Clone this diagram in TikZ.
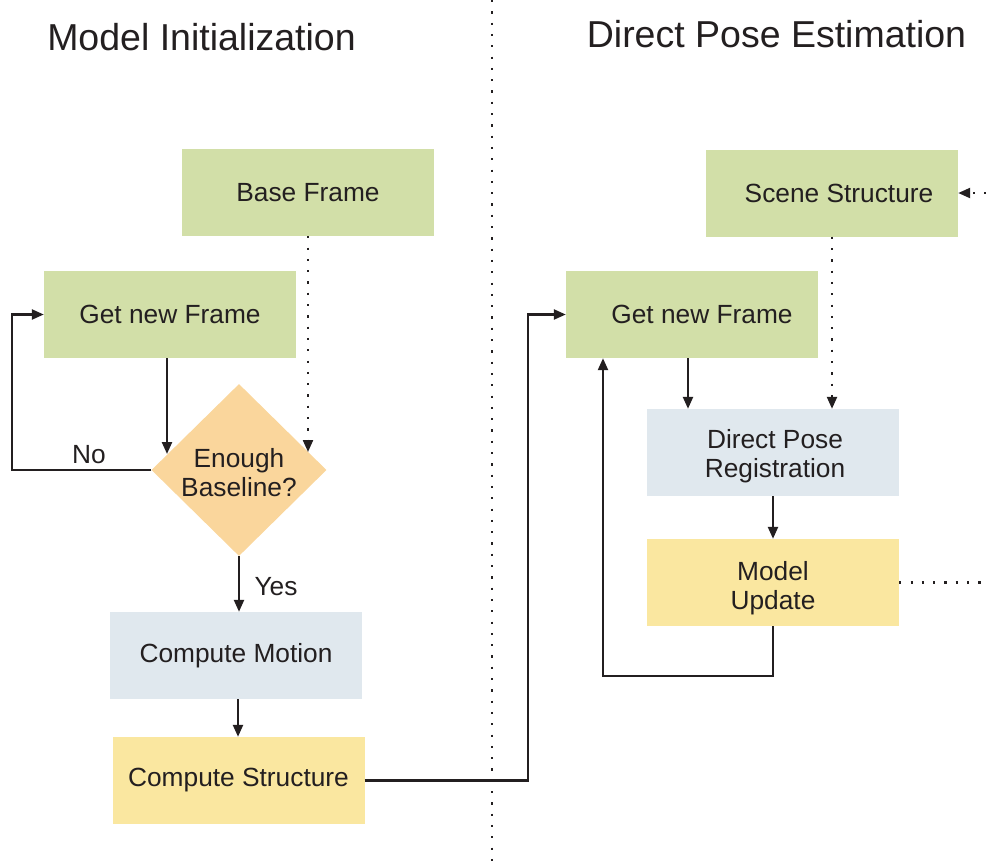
\documentclass[tikz,border=0pt]{standalone}
\usepackage{fontspec}
\setmainfont{Liberation Sans}
\usetikzlibrary{shapes.geometric,arrows.meta}
\definecolor{ink}{RGB}{35,31,32}
\definecolor{boxgreen}{RGB}{210,223,168}
\definecolor{boxblue}{RGB}{224,232,238}
\definecolor{boxyellow}{RGB}{250,231,160}
\definecolor{boxorange}{RGB}{250,214,156}
\tikzset{
  stepbox/.style={rectangle, minimum width=252pt, minimum height=87pt, inner sep=0pt,
    align=center, text=ink, font=\fontsize{26.3}{30}\selectfont},
  decision/.style={diamond, minimum width=175pt, minimum height=172pt, inner sep=0pt,
    fill=boxorange},
  caption/.style={text=ink, font=\fontsize{26.3}{29.5}\selectfont, align=center, inner sep=0pt},
  flow/.style={draw=ink, line width=2.3pt, -{Triangle[length=12pt,width=10pt]}},
  hint/.style={draw=ink, line width=2.2pt, dash pattern=on 2.2pt off 9.1pt},
  hintarrow/.style={hint, -{Triangle[length=12pt,width=10pt]}},
  title/.style={text=ink, font=\fontsize{37.5}{40}\selectfont, anchor=base, inner sep=0pt},
  tag/.style={text=ink, font=\fontsize{26.3}{30}\selectfont, inner sep=0pt}
}
\begin{document}
\begin{tikzpicture}[x=1pt, y=-1pt]
\useasboundingbox (0,0) rectangle (986,868);

% section titles and the divider between them
\node[title] (t1) at (201.5,50) {Model Initialization};
\node[title] (t2) at (776.5,47) {Direct Pose Estimation};
\coordinate (dtop) at (492,0);
\coordinate (dbot) at (492,868);
\draw[hint] (dtop) -- (dbot);

% model initialization
\node[stepbox, fill=boxgreen] (base) at (308,192.5) {Base Frame};
\node[stepbox, fill=boxgreen] (getL) at (170,314.5) {\raisebox{-2pt}{Get new Frame}};
\node[decision] (enough) at (239,470) {};
\node[caption] (enoughtext) at (239,472.5) {Enough\\Baseline?};
\node[stepbox, fill=boxblue] (motion) at (236,655.5) {Compute Motion};
\node[stepbox, fill=boxyellow] (struct) at (238.5,780.5) {Compute Structure};

% direct pose estimation
\node[stepbox, fill=boxgreen] (scene) at (832,193) {\hspace*{14pt}\raisebox{-1pt}{Scene Structure}};
\node[stepbox, fill=boxgreen] (getR) at (692,314.5) {\hspace*{20pt}\raisebox{-2pt}{Get new Frame}};
\node[stepbox, fill=boxblue] (reg) at (773,452.5) {};
\node[caption] (regtext) at (775,456) {Direct Pose\\Registration};
\node[stepbox, fill=boxyellow] (update) at (773,582.5) {};
\node[caption] (updatetext) at (773,588) {Model\\Update};

% connectors, left side
\coordinate (enoughIn) at (167,454);
\coordinate (enoughDot) at (308,452);
\draw[flow] (getL.south -| enoughIn) -- (enoughIn);
\draw[hintarrow] (base.south) -- (enoughDot);
\draw[flow] (enough.west) -- (12,470) -- (12,314.5) -- (getL.west);
\node[tag] (no) at (89,455) {No};
\draw[flow] (enough.south) -- (motion.north -| enough.south);
\node[tag] (yes) at (276,587) {Yes};
\draw[flow] (motion.south -| 238,0) -- (struct.north -| 238,0);
\draw[flow] (struct.east) -- (528,780.5) -- (528,314.5) -- (getR.west);

% connectors, right side
\coordinate (sceneIn) at (986,193);
\coordinate (updateOut) at (986,582.5);
\draw[hintarrow] (sceneIn) -- (scene.east);
\draw[hintarrow] (scene.south) -- (reg.north -| scene.south);
\draw[flow] (getR.south -| 688,0) -- (reg.north -| 688,0);
\draw[flow] (reg.south) -- (update.north);
\draw[flow] (update.south) -- (773,676) -- (603,676) -- (getR.south -| 603,0);
\draw[hint] (update.east) -- (updateOut);
\end{tikzpicture}
\end{document}
